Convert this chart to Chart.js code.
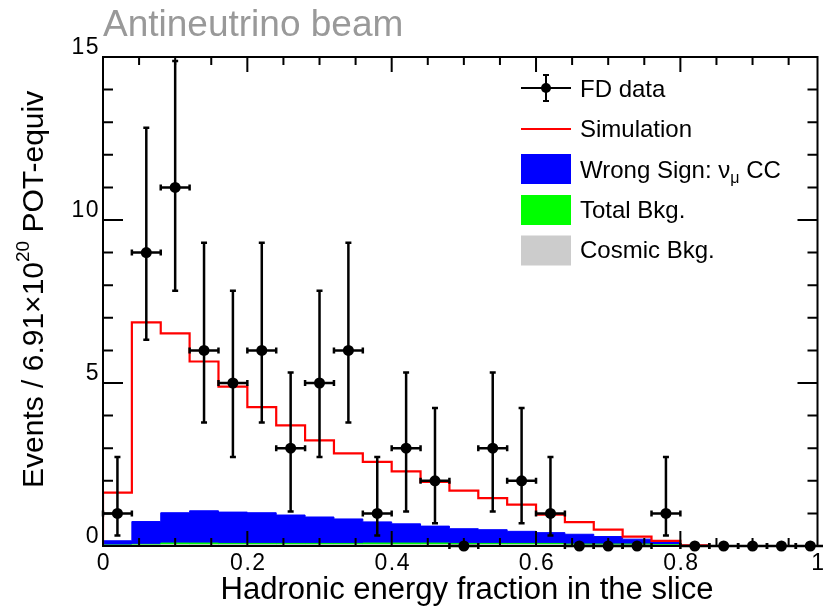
<!DOCTYPE html>
<html>
<head>
<meta charset="utf-8">
<title>Hadronic energy fraction in the slice</title>
<script src="https://cdn.jsdelivr.net/npm/chart.js@4.4.0/dist/chart.umd.min.js"></script>
<style>
  html, body { margin: 0; padding: 0; background: #fff; }
  #wrap { width: 823px; height: 607px; position: relative; }
</style>
</head>
<body>
<div id="wrap"><canvas id="histChart"></canvas></div>
<script>
// bin edges of the hadronic energy fraction (25 bins)
const binEdges = [0, 0.04, 0.08, 0.12, 0.16, 0.2, 0.24, 0.28, 0.32, 0.36, 0.4, 0.44, 0.48,
                  0.52, 0.56, 0.6, 0.64, 0.68, 0.72, 0.76, 0.8, 0.84, 0.88, 0.92, 0.96, 1.0];

// FD data with asymmetric (poisson) bounds
const fdData  = [1, 9, 11, 6, 5, 6, 3, 5, 6, 1, 3, 2, 0, 3, 2, 1, 0, 0, 0, 1, 0, 0, 0, 0, 0];
const errLow  = [0.32, 6.33, 7.83, 3.79, 2.73, 3.79, 1.06, 2.73, 3.79, 0.32, 1.06, 0.70, 0,
                 1.06, 0.70, 0.32, 0, 0, 0, 0.32, 0, 0, 0, 0, 0];
const errHigh = [2.73, 12.83, 14.88, 9.30, 7.83, 9.30, 5.32, 7.83, 9.30, 2.73, 5.32, 4.23, 0,
                 5.32, 4.23, 2.73, 0, 0, 0, 2.73, 0, 0, 0, 0, 0];

// simulation and its components
const simulation = [1.64, 6.86, 6.52, 5.66, 4.89, 4.26, 3.70, 3.24, 2.84, 2.58, 2.29, 1.97, 1.70,
                    1.47, 1.27, 0.96, 0.73, 0.50, 0.29, 0.16, 0.02, 0, 0, 0, 0];
const wrongSign  = [0.13, 0.70, 0.93, 0.99, 0.96, 0.94, 0.87, 0.81, 0.75, 0.65, 0.59, 0.52, 0.45,
                    0.42, 0.37, 0.33, 0.30, 0.23, 0.15, 0.11, 0.01, 0, 0, 0, 0];
const totalBkg   = [0.03, 0.05, 0.09, 0.09, 0.08, 0.08, 0.08, 0.08, 0.08, 0.09, 0.09, 0.09, 0.08,
                    0.08, 0.08, 0.08, 0.06, 0.06, 0.06, 0.04, 0.01, 0, 0, 0, 0];
const cosmicBkg  = [0.02, 0.03, 0.04, 0.04, 0.04, 0.04, 0.04, 0.04, 0.04, 0.04, 0.04, 0.04, 0.04,
                    0.04, 0.04, 0.04, 0.03, 0.03, 0.03, 0.02, 0.01, 0, 0, 0, 0];

const xTicks = [0, 0.2, 0.4, 0.6, 0.8, 1];
const xTickLabels = ['0', '0.2', '0.4', '0.6', '0.8', '1'];
const yTicks = [0, 5, 10, 15];
const yTickLabels = ['0', '5', '10', '15'];

const FONT = "'Liberation Sans', Arial, Helvetica, sans-serif";

// turn bin contents into stepped outline points
function histPoints(vals) {
    const n = vals.length;
    const pts = [{ x: binEdges[0], y: 0 }];
    vals.forEach((v, i) => pts.push({ x: binEdges[i], y: v }));
    pts.push({ x: binEdges[n], y: vals[n - 1] });
    pts.push({ x: binEdges[n], y: 0 });
    return pts;
}

const wsStack = wrongSign.map((v, i) => v + totalBkg[i]);
const dataPoints = fdData.map((v, i) => ({ x: (binEdges[i] + binEdges[i + 1]) / 2, y: v }));

// error bars under the data markers
const errorBars = {
    id: 'errorBars',
    beforeDatasetDraw(chart, args) {
        if (args.index !== 0) return;
        const { ctx, scales: { x, y } } = chart;
        ctx.save();
        ctx.strokeStyle = '#000';
        ctx.lineWidth = 2.5;
        fdData.forEach((v, i) => {
            const px = x.getPixelForValue(dataPoints[i].x);
            const py = y.getPixelForValue(v);
            const xl = x.getPixelForValue(binEdges[i]);
            const xr = x.getPixelForValue(binEdges[i + 1]);
            ctx.beginPath();
            ctx.moveTo(xl, py); ctx.lineTo(xr, py);
            ctx.moveTo(xl, py - 3); ctx.lineTo(xl, py + 3);
            ctx.moveTo(xr, py - 3); ctx.lineTo(xr, py + 3);
            if (errHigh[i] > 0) {
                const yt = y.getPixelForValue(errHigh[i]);
                const yb = y.getPixelForValue(errLow[i]);
                ctx.moveTo(px, yt); ctx.lineTo(px, yb);
                ctx.moveTo(px - 3, yt); ctx.lineTo(px + 3, yt);
                ctx.moveTo(px - 3, yb); ctx.lineTo(px + 3, yb);
            }
            ctx.stroke();
        });
        ctx.restore();
    }
};

// frame, ticks, labels, titles and legend in ROOT style
const rootFrame = {
    id: 'rootFrame',
    afterDraw(chart) {
        const { ctx, chartArea: a, scales: { x, y } } = chart;
        ctx.save();
        ctx.strokeStyle = '#000';
        ctx.lineWidth = 2;
        ctx.strokeRect(a.left, a.top, a.right - a.left, a.bottom - a.top);

        ctx.beginPath();
        for (let k = 0; k <= 20; k++) {
            const px = x.getPixelForValue(k * 0.05);
            if (px > a.right) continue;
            const len = k % 4 === 0 ? 15 : 8;
            ctx.moveTo(px, a.bottom); ctx.lineTo(px, a.bottom - len);
            ctx.moveTo(px, a.top); ctx.lineTo(px, a.top + len);
        }
        for (let k = 0; k <= 15; k++) {
            const py = y.getPixelForValue(k);
            const len = k % 5 === 0 ? 20 : 10;
            ctx.moveTo(a.left, py); ctx.lineTo(a.left + len, py);
            ctx.moveTo(a.right, py); ctx.lineTo(a.right - len, py);
        }
        ctx.lineWidth = 2;
        ctx.stroke();

        // tick labels
        ctx.fillStyle = '#000';
        ctx.font = '23px ' + FONT;
        ctx.letterSpacing = '1.5px';
        ctx.textBaseline = 'alphabetic';
        ctx.textAlign = 'center';
        xTicks.forEach((v, i) => {
            const px = Math.min(x.getPixelForValue(v), a.right);
            ctx.fillText(xTickLabels[i], px + 1, a.bottom + 24);
        });
        ctx.textAlign = 'right';
        yTicks.forEach((v, i) => ctx.fillText(yTickLabels[i], a.left - 3, y.getPixelForValue(v) - 3));
        ctx.letterSpacing = '0px';

        // axis titles
        ctx.font = '31px ' + FONT;
        ctx.textAlign = 'center';
        ctx.fillText('Hadronic energy fraction in the slice', 467, 599);

        ctx.save();
        ctx.translate(43, 488);
        ctx.rotate(-Math.PI / 2);
        ctx.textAlign = 'left';
        let tx = 0;
        ctx.font = '30px ' + FONT;
        ctx.fillText('Events / 6.91×10', tx, 0);
        tx += ctx.measureText('Events / 6.91×10').width;
        ctx.font = '19px ' + FONT;
        ctx.fillText('20', tx, -14);
        tx += ctx.measureText('20').width;
        ctx.font = '30px ' + FONT;
        ctx.fillText(' POT-equiv', tx, 0);
        ctx.restore();

        // title
        ctx.fillStyle = '#999999';
        ctx.font = '37px ' + FONT;
        ctx.textAlign = 'left';
        ctx.fillText('Antineutrino beam', 103, 36);

        // legend
        const lx = 521, lw = 50, tX = 580;
        ctx.strokeStyle = '#000';
        ctx.lineWidth = 2;
        ctx.beginPath();
        ctx.moveTo(lx, 88); ctx.lineTo(lx + lw, 88);
        ctx.moveTo(546, 75); ctx.lineTo(546, 101);
        ctx.moveTo(543, 75); ctx.lineTo(549, 75);
        ctx.moveTo(543, 101); ctx.lineTo(549, 101);
        ctx.stroke();
        ctx.fillStyle = '#000';
        ctx.beginPath(); ctx.arc(546, 88, 5, 0, Math.PI * 2); ctx.fill();

        ctx.strokeStyle = '#ff0000';
        ctx.beginPath(); ctx.moveTo(lx, 129); ctx.lineTo(lx + lw, 129); ctx.stroke();

        ctx.fillStyle = '#0000ff'; ctx.fillRect(lx, 154, lw, 30);
        ctx.fillStyle = '#00ff00'; ctx.fillRect(lx, 195, lw, 30);
        ctx.fillStyle = '#cccccc'; ctx.fillRect(lx, 235.5, lw, 30);

        ctx.fillStyle = '#000';
        ctx.font = '24px ' + FONT;
        ctx.fillText('FD data', tX, 97);
        ctx.fillText('Simulation', tX, 137);
        let wx = tX;
        ctx.fillText('Wrong Sign: ν', wx, 178);
        wx += ctx.measureText('Wrong Sign: ν').width;
        ctx.font = '16px ' + FONT;
        ctx.fillText('μ', wx, 183);
        wx += ctx.measureText('μ').width;
        ctx.font = '24px ' + FONT;
        ctx.fillText(' CC', wx, 178);
        ctx.fillText('Total Bkg.', tX, 217.5);
        ctx.fillText('Cosmic Bkg.', tX, 258);
        ctx.restore();
    }
};

const ctxHist = document.getElementById('histChart').getContext('2d');
const histChart = new Chart(ctxHist, {
    type: 'line',
    data: {
        datasets: [
            {
                type: 'scatter',
                label: 'FD data',
                data: dataPoints,
                pointRadius: 5.5,
                pointBackgroundColor: '#000',
                pointBorderWidth: 0,
                showLine: false,
                clip: false
            },
            {
                label: 'Simulation',
                data: histPoints(simulation),
                stepped: 'before',
                borderColor: '#ff0000',
                borderWidth: 2.2,
                pointRadius: 0,
                fill: false
            },
            {
                label: 'Cosmic Bkg.',
                data: histPoints(cosmicBkg),
                stepped: 'before',
                borderColor: '#cccccc',
                backgroundColor: '#cccccc',
                borderWidth: 1,
                pointRadius: 0,
                fill: 'origin'
            },
            {
                label: 'Total Bkg.',
                data: histPoints(totalBkg),
                stepped: 'before',
                borderColor: '#00ff00',
                backgroundColor: '#00ff00',
                borderWidth: 1,
                pointRadius: 0,
                fill: 'origin'
            },
            {
                label: 'Wrong Sign',
                data: histPoints(wsStack),
                stepped: 'before',
                borderColor: '#0000ff',
                backgroundColor: '#0000ff',
                borderWidth: 1,
                pointRadius: 0,
                fill: 'origin'
            }
        ]
    },
    options: {
        responsive: true,
        maintainAspectRatio: false,
        animation: false,
        layout: { padding: { left: 103, right: 2, top: 57, bottom: 61 } },
        plugins: {
            legend: { display: false },
            tooltip: { enabled: false }
        },
        scales: {
            // the histogram in the picture runs slightly past the frame edge
            x: { type: 'linear', min: 0, max: 0.99, display: false },
            y: { min: 0, max: 15, display: false }
        }
    },
    plugins: [errorBars, rootFrame]
});
</script>
</body>
</html>
